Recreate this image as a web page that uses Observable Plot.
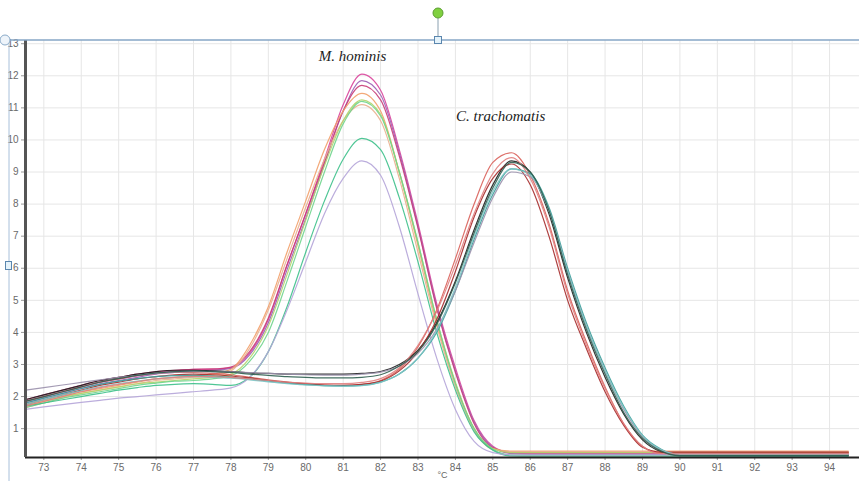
<!DOCTYPE html>
<html>
<head>
<meta charset="utf-8">
<script src="https://cdn.jsdelivr.net/npm/d3@7"></script>
<script src="https://cdn.jsdelivr.net/npm/@observablehq/plot@0.6"></script>
<style>
  html, body { margin: 0; padding: 0; background: #fff; }
  #wrap { position: relative; width: 859px; height: 481px; overflow: hidden; }
  #overlay { position: absolute; left: 0; top: 0; pointer-events: none; }
</style>
</head>
<body>
<div id="wrap"></div>
<script>
// Temperatures (°C) at which melt-curve values were read
const temps = [72.5,73,73.5,74,74.5,75,75.5,76,76.5,77,77.5,78,78.5,79,79.5,80,80.5,81,81.5,82,82.5,83,83.5,84,84.5,85,85.5,86,86.5,87,87.5,88,88.5,89,89.5,90,91,92,93,94,94.5];

// M. hominis curves (-dF/dT)
const mh1 = [1.85,2.0,2.15,2.3,2.45,2.55,2.65,2.75,2.8,2.85,2.85,2.9,3.35,4.4,6.1,7.7,9.4,11.1,12.05,11.55,9.7,7.4,4.9,2.9,1.25,0.45,0.24,0.22,0.22,0.22,0.22,0.22,0.22,0.22,0.22,0.22,0.22,0.22,0.22,0.22,0.22];
const mh2 = [1.8,1.95,2.1,2.25,2.4,2.5,2.6,2.7,2.75,2.8,2.82,2.88,3.3,4.3,5.95,7.55,9.25,10.9,11.85,11.4,9.6,7.3,4.8,2.8,1.2,0.42,0.22,0.2,0.2,0.2,0.2,0.2,0.2,0.2,0.2,0.2,0.2,0.2,0.2,0.2,0.2];
const mh3 = [1.9,2.05,2.2,2.35,2.5,2.6,2.7,2.78,2.82,2.85,2.86,2.92,3.4,4.45,6.1,7.7,9.3,10.9,11.7,11.25,9.5,7.25,4.75,2.75,1.15,0.4,0.26,0.26,0.26,0.26,0.26,0.26,0.26,0.26,0.26,0.26,0.26,0.26,0.26,0.26,0.26];
const mh4 = [1.7,1.85,2.0,2.15,2.25,2.35,2.45,2.55,2.6,2.65,2.7,2.85,3.6,4.8,6.5,8.1,9.7,10.9,11.45,10.9,9.0,6.7,4.3,2.4,1.0,0.38,0.3,0.3,0.3,0.3,0.3,0.3,0.3,0.3,0.3,0.3,0.3,0.3,0.3,0.3,0.3];
const mh5 = [1.65,1.8,1.95,2.1,2.2,2.3,2.4,2.5,2.55,2.6,2.65,2.8,3.5,4.7,6.3,7.9,9.4,10.6,11.1,10.6,8.8,6.5,4.2,2.3,0.95,0.35,0.28,0.28,0.28,0.28,0.28,0.28,0.28,0.28,0.28,0.28,0.28,0.28,0.28,0.28,0.28];
const mh6 = [1.7,1.85,2.0,2.1,2.2,2.3,2.4,2.45,2.5,2.55,2.6,2.7,3.2,4.2,5.8,7.5,9.2,10.6,11.25,10.8,9.0,6.8,4.4,2.45,1.0,0.38,0.25,0.25,0.25,0.25,0.25,0.25,0.25,0.25,0.25,0.25,0.25,0.25,0.25,0.25,0.25];
const mh7 = [1.65,1.8,1.95,2.05,2.15,2.25,2.35,2.42,2.48,2.5,2.55,2.65,3.1,4.0,5.6,7.3,9.0,10.5,11.2,10.75,9.0,6.8,4.4,2.4,1.0,0.36,0.18,0.17,0.17,0.17,0.17,0.17,0.17,0.17,0.17,0.17,0.17,0.17,0.17,0.17,0.17];
const mh8 = [1.7,1.8,1.9,2.0,2.1,2.2,2.28,2.35,2.38,2.4,2.38,2.35,2.6,3.4,4.8,6.5,8.1,9.4,10.05,9.7,8.2,6.2,4.0,2.2,0.9,0.33,0.15,0.14,0.14,0.14,0.14,0.14,0.14,0.14,0.14,0.14,0.14,0.14,0.14,0.14,0.14];
const mh9 = [1.6,1.68,1.75,1.82,1.88,1.95,2.0,2.05,2.1,2.15,2.2,2.27,2.6,3.4,4.7,6.2,7.7,8.8,9.35,8.9,7.3,5.2,3.2,1.6,0.6,0.25,0.18,0.18,0.18,0.18,0.18,0.18,0.18,0.18,0.18,0.18,0.18,0.18,0.18,0.18,0.18];

// C. trachomatis curves (-dF/dT)
const ct1 = [1.85,2.0,2.15,2.3,2.45,2.55,2.65,2.72,2.75,2.75,2.72,2.68,2.6,2.52,2.45,2.4,2.36,2.35,2.38,2.5,2.85,3.55,4.7,6.3,8.0,9.3,9.6,8.9,7.4,5.3,3.7,2.3,1.15,0.45,0.24,0.24,0.24,0.24,0.24,0.24,0.24];
const ct2 = [1.9,2.05,2.2,2.35,2.5,2.6,2.7,2.78,2.82,2.82,2.8,2.78,2.74,2.72,2.7,2.7,2.7,2.7,2.72,2.78,3.0,3.45,4.3,5.6,7.2,8.6,9.35,9.0,7.7,5.7,4.0,2.6,1.45,0.65,0.28,0.18,0.18,0.18,0.18,0.18,0.18];
const ct3 = [1.75,1.9,2.05,2.2,2.35,2.45,2.55,2.62,2.68,2.7,2.68,2.64,2.58,2.5,2.44,2.4,2.36,2.35,2.38,2.48,2.8,3.4,4.4,5.9,7.6,8.8,9.25,8.6,7.0,5.0,3.5,2.15,1.1,0.42,0.27,0.27,0.27,0.27,0.27,0.27,0.27];
const ct4 = [1.8,1.95,2.1,2.25,2.38,2.48,2.56,2.62,2.65,2.66,2.64,2.6,2.55,2.48,2.42,2.37,2.34,2.33,2.35,2.45,2.7,3.2,4.0,5.3,6.9,8.3,9.1,8.95,7.9,6.0,4.3,2.9,1.7,0.8,0.36,0.16,0.15,0.15,0.15,0.15,0.15];
const ct5 = [2.2,2.28,2.36,2.44,2.52,2.6,2.66,2.72,2.76,2.78,2.78,2.77,2.75,2.72,2.7,2.68,2.67,2.67,2.7,2.76,2.95,3.35,4.1,5.3,6.8,8.2,9.0,8.85,7.8,5.9,4.2,2.8,1.6,0.75,0.33,0.2,0.2,0.2,0.2,0.2,0.2];
const ct6 = [1.75,1.9,2.05,2.18,2.3,2.4,2.48,2.55,2.6,2.62,2.6,2.57,2.52,2.46,2.4,2.36,2.33,2.32,2.34,2.44,2.7,3.2,4.05,5.4,7.0,8.4,9.1,8.9,7.8,5.9,4.2,2.8,1.65,0.78,0.34,0.2,0.2,0.2,0.2,0.2,0.2];
const ct7 = [1.7,1.85,2.0,2.15,2.28,2.38,2.47,2.55,2.6,2.63,2.62,2.6,2.55,2.5,2.45,2.42,2.4,2.4,2.44,2.56,2.9,3.6,4.65,6.1,7.7,8.95,9.45,8.8,7.3,5.2,3.6,2.25,1.15,0.45,0.22,0.21,0.21,0.21,0.21,0.21,0.21];
const ct8 = [1.85,2.0,2.15,2.3,2.45,2.56,2.66,2.74,2.78,2.8,2.78,2.75,2.7,2.66,2.62,2.6,2.58,2.58,2.6,2.68,2.95,3.4,4.25,5.55,7.1,8.5,9.3,9.0,7.8,5.8,4.1,2.7,1.5,0.7,0.3,0.16,0.16,0.16,0.16,0.16,0.16];

const seriesNames = ["mh1","mh2","mh3","mh4","mh5","mh6","mh7","mh8","mh9","ct1","ct2","ct3","ct4","ct5","ct6","ct7","ct8"];
const seriesValues = [mh1,mh2,mh3,mh4,mh5,mh6,mh7,mh8,mh9,ct1,ct2,ct3,ct4,ct5,ct6,ct7,ct8];
const seriesColors = ["#d9449b","#9b5fb5","#c83c78","#f2a06a","#e9b08e","#b4d46a","#6fd48c","#3cc08a","#b4a4d8",
                      "#d9605a","#1e1e1e","#a52a2a","#3a9e9a","#9a90ac","#7cc4c4","#e08080","#2f5f50"];

// Axis ticks
const xTicks = [73,74,75,76,77,78,79,80,81,82,83,84,85,86,87,88,89,90,91,92,93,94];
const yTicks = [1,2,3,4,5,6,7,8,9,10,11,12,13];

// Annotations
const labelText = ["M. hominis", "C. trachomatis"];
const labelTemp = [81.25, 85.21];
const labelValue = [12.6, 10.73];

const xDomain = [72.51, 94.8];
const yDomain = [0.1, 13.1];

const lineMarks = seriesValues.map((vals, i) =>
  Plot.line(temps.map((t, j) => ({t, v: vals[j]})), {
    x: "t", y: "v", stroke: seriesColors[i], strokeWidth: 1.2, strokeOpacity: 0.9, curve: "monotone-x"
  })
);

const annotations = labelText.map((s, i) => ({s, t: labelTemp[i], v: labelValue[i]}));

const chart = Plot.plot({
  width: 859,
  height: 481,
  marginLeft: 25,
  marginRight: 0,
  marginTop: 40,
  marginBottom: 24,
  style: {background: "#fff", fontFamily: "'Liberation Sans', Arial, sans-serif"},
  x: {domain: xDomain, ticks: xTicks, tickFormat: d => String(d), tickSize: 3, tickPadding: 3, label: null},
  y: {domain: yDomain, ticks: yTicks, tickFormat: d => String(d), tickSize: 4, tickPadding: 3, label: null},
  marks: [
    Plot.ruleX(xTicks, {stroke: "#e6e6e6", strokeWidth: 1}),
    Plot.ruleY(yTicks, {stroke: "#e6e6e6", strokeWidth: 1}),
    ...lineMarks,
    Plot.ruleY([yDomain[0]], {stroke: "#222", strokeWidth: 2}),
    Plot.ruleX([xDomain[0]], {stroke: "#555", strokeWidth: 3}),
    Plot.text(annotations, {x: "t", y: "v", text: "s", fontFamily: "'Liberation Serif', 'Times New Roman', serif",
      fontStyle: "italic", fontSize: 15, fill: "#222"}),
    Plot.text(["°C"], {frameAnchor: "bottom", dy: 20, fontSize: 9, fill: "#666"})
  ]
});

// style tick labels
chart.querySelectorAll("g[aria-label='x-axis tick label'], g[aria-label='y-axis tick label']").forEach(g => {
  g.setAttribute("fill", "#6a6a6a");
  g.setAttribute("font-size", "10");
});
chart.querySelectorAll("g[aria-label='x-axis tick'], g[aria-label='y-axis tick']").forEach(g => {
  g.setAttribute("stroke", "#999");
});

const wrap = document.getElementById("wrap");
wrap.appendChild(chart);

// selection frame decoration (editor handles seen in the original screenshot)
const ns = "http://www.w3.org/2000/svg";
const ov = document.createElementNS(ns, "svg");
ov.setAttribute("id", "overlay");
ov.setAttribute("width", 859);
ov.setAttribute("height", 481);
ov.innerHTML = `
  <line x1="0" y1="40" x2="859" y2="40" stroke="#86a6c6" stroke-width="1.5"/>
  <line x1="9" y1="40" x2="9" y2="481" stroke="#a8c0da" stroke-width="1"/>
  <line x1="438" y1="18" x2="438" y2="37" stroke="#8aa0b0" stroke-width="1"/>
  <circle cx="438" cy="13" r="5" fill="#80d040" stroke="#5c9e30" stroke-width="1"/>
  <rect x="434.5" y="36.5" width="7" height="7" fill="#e4f2fa" stroke="#5a86ae" stroke-width="1"/>
  <rect x="5.5" y="261.5" width="6" height="8" fill="#e4f2fa" stroke="#5a86ae" stroke-width="1"/>
  <circle cx="5" cy="40" r="5" fill="#eef4fa" stroke="#8aaac8" stroke-width="1"/>
`;
wrap.appendChild(ov);
</script>
</body>
</html>
